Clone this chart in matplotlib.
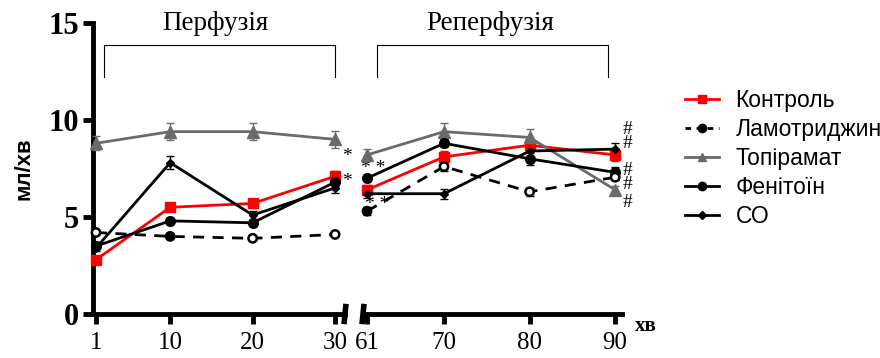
import numpy as np
import matplotlib
matplotlib.use("Agg")
from matplotlib import pyplot as plt
from matplotlib.lines import Line2D

# time points (min)
t_perf = [1, 10, 20, 30]
t_reperf = [61, 70, 80, 90]

# flow, ml/min (perfusion 4 points + reperfusion 4 points)
kontrol = [2.8, 5.5, 5.7, 7.1, 6.4, 8.1, 8.7, 8.2]
kontrol_err = [0.15, 0.2, 0.2, 0.25, 0.25, 0.3, 0.25, 0.3]
lamotr = [4.2, 4.0, 3.9, 4.1, 5.3, 7.6, 6.3, 7.05]
lamotr_err = [0.1, 0.1, 0.1, 0.1, 0.2, 0.25, 0.2, 0.15]
topir = [8.8, 9.4, 9.4, 9.0, 8.2, 9.4, 9.1, 6.4]
topir_err = [0.35, 0.45, 0.45, 0.45, 0.3, 0.45, 0.45, 0.2]
fenit = [3.5, 4.8, 4.7, 6.8, 7.0, 8.8, 8.0, 7.3]
fenit_err = [0.15, 0.15, 0.15, 0.2, 0.15, 0.2, 0.3, 0.3]
co = [3.4, 7.8, 5.1, 6.5, 6.2, 6.2, 8.4, 8.5]
co_err = [0.15, 0.35, 0.2, 0.25, 0.2, 0.25, 0.3, 0.3]

names = ["Контроль", "Ламотриджин", "Топірамат", "Фенітоїн", "СО"]
yticks = [0, 5, 10, 15]

GRAY = "#6b6b6b"
serif = "Liberation Serif"
sans = "Liberation Sans"

fig = plt.figure(figsize=(8.8, 3.58), dpi=100)
ax1 = fig.add_axes([93 / 880, 44 / 358, 252 / 880, 291 / 358])
ax2 = fig.add_axes([363 / 880, 44 / 358, 259 / 880, 291 / 358])

series = [
    (kontrol, kontrol_err, dict(color="red", marker="s", ms=7, mfc="red", mec="red", ls="-"), "red"),
    (lamotr, lamotr_err, dict(color="black", marker="None", ls=(0, (4, 3))), "black"),
    (topir, topir_err, dict(color=GRAY, marker="^", ms=8, mfc=GRAY, mec=GRAY, ls="-"), GRAY),
    (fenit, fenit_err, dict(color="black", marker="o", ms=7, ls="-"), "black"),
    (co, co_err, dict(color="black", marker="D", ms=4, ls="-"), "black"),
]

for ax, t, sl in [(ax1, t_perf, slice(0, 4)), (ax2, t_reperf, slice(4, 8))]:
    for vals, err, st, ecol in series:
        ax.errorbar(t, vals[sl], yerr=err[sl], lw=2, ecolor=ecol, elinewidth=1,
                    capsize=3, capthick=1, clip_on=False, zorder=3, **st)
    # lamotrigine: mostly open circles, some filled
    lv = np.array(lamotr[sl])
    filled = [1, 4]
    idx = np.arange(sl.start, sl.stop)
    fc = ["black" if i in filled else "white" for i in idx]
    ax.scatter(t, lv, s=36, facecolors=fc, edgecolors="black", linewidths=1.8, zorder=4, clip_on=False)

    ax.set_ylim(0, 15)
    for s in ["top", "right"]:
        ax.spines[s].set_visible(False)
    ax.spines["bottom"].set_linewidth(3.5)
    ax.spines["left"].set_linewidth(3.5)
    ax.tick_params(axis="x", width=3.5, length=7, direction="out", pad=6)
    ax.tick_params(axis="y", width=3.5, length=7, direction="out", pad=3)
    ax.set_xticks(t)
    ax.set_xticklabels([str(v) for v in t], fontfamily=serif, fontsize=18)

ax1.set_xlim(0.64, 31.2)
ax2.set_xlim(60.53, 90.8)
ax1.set_yticks(yticks)
ax1.set_yticklabels([str(v) for v in yticks], fontfamily=serif, fontsize=22, fontweight="bold")
ax2.spines["left"].set_visible(False)
ax2.set_yticks([])
ax1.set_ylabel("мл/хв", fontfamily=sans, fontsize=16, fontweight="bold", labelpad=10)

# axis break marks
for ax, xb in [(ax1, 1.0), (ax2, 0.0)]:
    ax.plot([xb - 0.004, xb + 0.004], [-0.035, 0.035], transform=ax.transAxes,
            color="black", lw=4, clip_on=False, solid_capstyle="butt")

# phase brackets and titles
ax1.plot([2, 2, 30, 30], [12.2, 13.85, 13.85, 12.2], color="black", lw=0.8, clip_on=False)
ax2.plot([62.2, 62.2, 89.2, 89.2], [12.2, 13.85, 13.85, 12.2], color="black", lw=0.8, clip_on=False)
ax1.text(15.5, 15.0, "Перфузія", ha="center", va="center", fontfamily=serif, fontsize=19.5)
ax2.text(75.4, 15.0, "Реперфузія", ha="center", va="center", fontfamily=serif, fontsize=19.5)

# significance marks
ax1.text(31.4, 8.1, "*", fontfamily=serif, fontsize=14, ha="center", va="center")
ax1.text(31.4, 6.85, "*", fontfamily=serif, fontsize=14, ha="center", va="center")
ax2.text(61.7, 7.5, "* *", fontfamily=serif, fontsize=14, ha="center", va="center")
ax2.text(62.2, 5.65, "* *", fontfamily=serif, fontsize=14, ha="center", va="center")
ax2.text(91.5, 9.15, "#\n#", fontfamily=serif, fontsize=14, ha="center", va="center",
         linespacing=0.78, clip_on=False)
ax2.text(91.5, 7.05, "#\n#", fontfamily=serif, fontsize=14, ha="center", va="center",
         linespacing=0.78, clip_on=False)
ax2.text(91.5, 5.75, "#", fontfamily=serif, fontsize=14, ha="center", va="center", clip_on=False)
ax2.text(93.6, -0.6, "хв", fontfamily=serif, fontsize=15, fontweight="bold", ha="center", va="center")

# legend
handles = [
    Line2D([], [], color="red", marker="s", ms=6, lw=2),
    Line2D([], [], color="black", marker="o", ms=6, lw=2, ls=(0, (2, 2))),
    Line2D([], [], color=GRAY, marker="^", ms=6, lw=2),
    Line2D([], [], color="black", marker="o", ms=6, lw=2),
    Line2D([], [], color="black", marker="D", ms=4, lw=2),
]
fig.legend(handles, names, loc="upper left", bbox_to_anchor=(0.755, 0.81), frameon=False,
           prop={"family": sans, "size": 16.5}, handlelength=1.5, handletextpad=0.7,
           labelspacing=0.27)

fig.savefig("out.png", dpi=100)
